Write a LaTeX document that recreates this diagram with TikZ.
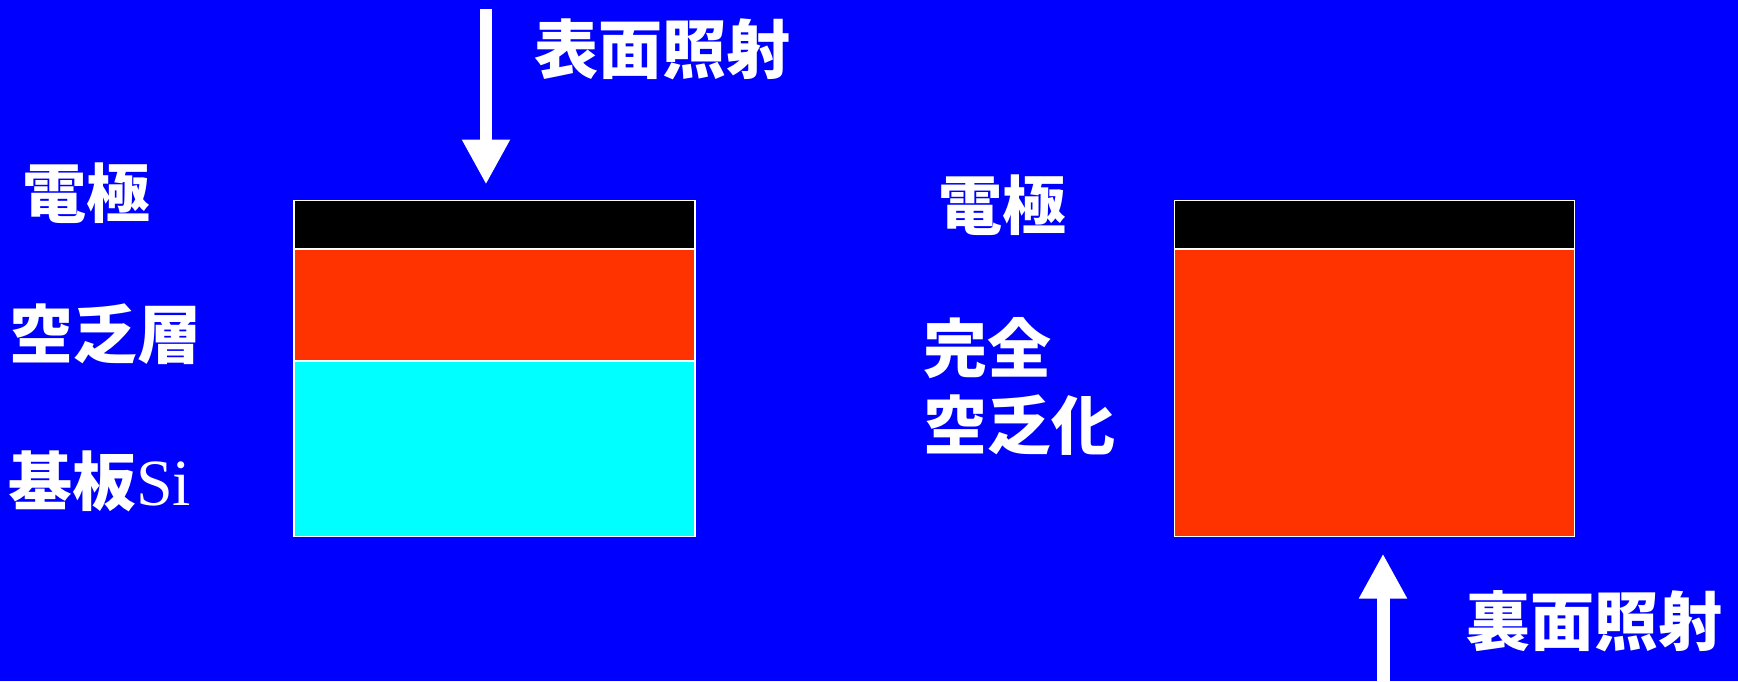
\documentclass[tikz,border=0pt]{standalone}
\usepackage{fontspec}
\setmainfont{Liberation Serif}
\newfontfamily\cjk{Noto Sans CJK JP}
\usetikzlibrary{arrows.meta}
\definecolor{bg}{RGB}{0,0,255}
\definecolor{deplred}{RGB}{255,51,0}
\definecolor{subcyan}{RGB}{0,255,255}
\tikzset{
  layer/.style={draw=white, line width=1.5pt, inner sep=0pt, outer sep=0pt, anchor=north west, minimum width=401pt},
  lbl/.style={text=white, inner sep=0pt, anchor=west, font=\fontsize{64}{64}\selectfont\cjk\bfseries},
  lightarrow/.style={draw=white, line width=12pt, -{Triangle[width=45pt,length=45pt]}}
}
\begin{document}
\begin{tikzpicture}[x=1pt,y=-1pt]
\fill[bg] (0,0) rectangle (1738,681);
\useasboundingbox (0,0) rectangle (1738,681);
% left device
\node[layer, fill=black, minimum height=48.3pt] (e1) at (294,200.7) {};
\node[layer, fill=deplred, minimum height=112pt] (d1) at (294,249) {};
\node[layer, fill=subcyan, minimum height=175.7pt] (s1) at (294,361) {};
% right device
\node[layer, fill=black, minimum height=48.3pt, minimum width=400pt] (e2) at (1174.4,200.7) {};
\node[layer, fill=deplred, minimum height=287.7pt, minimum width=400pt] (d2) at (1174.4,249) {};
% arrows
\coordinate (a1s) at (486,8.7);
\coordinate (a1t) at (486,184.5);
\draw[lightarrow] (a1s) -- (a1t);
\coordinate (a2s) at (1383,682);
\coordinate (a2t) at (1383,553.6);
\draw[lightarrow, line width=13pt] (a2s) -- (a2t);
% labels
\node[lbl] (t1) at (534,49.5) {表面照射};
\node[lbl] (t2) at (1466,621) {裏面照射};
\node[lbl] (l1) at (22,193.5) {電極};
\node[lbl] (l2) at (9,334) {空乏層};
\node[lbl] (l3) at (8,481.5) {基板{\rmfamily\mdseries\fontsize{66}{66}\selectfont Si}};
\node[lbl] (r1) at (938,205) {電極};
\node[lbl] (r2) at (923,348.5) {完全};
\node[lbl] (r3) at (923,425) {空乏化};
\end{tikzpicture}
\end{document}
